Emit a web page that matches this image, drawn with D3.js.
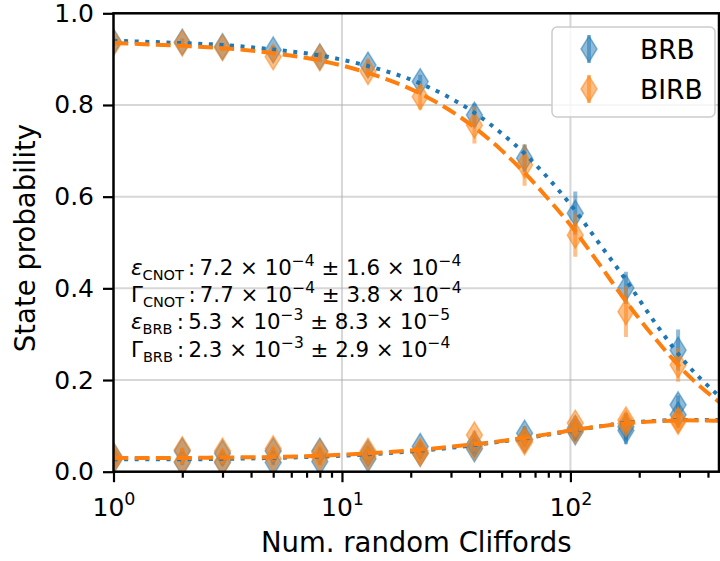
<!DOCTYPE html>
<html>
<head>
<meta charset="utf-8">
<script src="https://cdn.jsdelivr.net/npm/d3@7"></script>
<style>
  body { margin: 0; background: #fff; }
  svg { display: block; font-family: "DejaVu Sans", sans-serif; }
</style>
</head>
<body>
<div id="chart"></div>
<script>
// Data
var numCliffords = [1, 2, 3, 5, 8, 13, 22, 38, 63, 105, 175, 296];

var brbHigh    = [0.938, 0.937, 0.927, 0.920, 0.905, 0.887, 0.851, 0.778, 0.684, 0.564, 0.401, 0.265];
var brbHighErr = [0.008, 0.008, 0.008, 0.010, 0.010, 0.012, 0.015, 0.025, 0.030, 0.047, 0.035, 0.045];
var birbHigh    = [0.935, 0.935, 0.925, 0.905, 0.903, 0.873, 0.818, 0.756, 0.669, 0.516, 0.349, 0.233];
var birbHighErr = [0.008, 0.008, 0.008, 0.010, 0.010, 0.012, 0.028, 0.040, 0.045, 0.047, 0.055, 0.037];

// two low-state readings per length
var brbLowA  = [0.035, 0.045, 0.040, 0.045, 0.045, 0.040, 0.055, 0.050, 0.084, 0.087, 0.098, 0.146];
var brbLowB  = [0.025, 0.020, 0.020, 0.020, 0.022, 0.028, 0.040, 0.060, 0.070, 0.095, 0.090, 0.124];
var birbLowA = [0.035, 0.048, 0.045, 0.050, 0.042, 0.045, 0.045, 0.080, 0.070, 0.106, 0.113, 0.113];
var birbLowB = [0.025, 0.022, 0.022, 0.028, 0.030, 0.033, 0.040, 0.055, 0.065, 0.090, 0.105, 0.110];
var brbLowErr  = [0.006, 0.006, 0.006, 0.006, 0.008, 0.008, 0.010, 0.012, 0.015, 0.020, 0.030, 0.020];
var birbLowErr = [0.005, 0.005, 0.005, 0.005, 0.006, 0.006, 0.008, 0.010, 0.012, 0.015, 0.015, 0.015];

// fitted curves
var fitX        = [1, 2, 3, 5, 8, 13, 22, 38, 50, 63, 80, 100, 135, 170, 240, 310, 447];
var brbFitHigh  = [0.940, 0.935, 0.931, 0.921, 0.908, 0.885, 0.847, 0.783, 0.738, 0.694, 0.640, 0.583, 0.495, 0.427, 0.318, 0.245, 0.165];
var birbFitHigh = [0.935, 0.929, 0.924, 0.913, 0.897, 0.870, 0.825, 0.751, 0.701, 0.652, 0.595, 0.538, 0.450, 0.380, 0.285, 0.222, 0.152];
var brbFitLow   = [0.027, 0.027, 0.028, 0.030, 0.033, 0.038, 0.046, 0.058, 0.066, 0.073, 0.081, 0.089, 0.099, 0.106, 0.111, 0.113, 0.113];
var birbFitLow  = [0.030, 0.030, 0.031, 0.032, 0.035, 0.040, 0.048, 0.060, 0.067, 0.074, 0.082, 0.090, 0.099, 0.105, 0.110, 0.112, 0.111];

var yTicks = [0.0, 0.2, 0.4, 0.6, 0.8, 1.0];
var xTicks = [1, 10, 100];
var xMinorTicks = [2, 3, 4, 5, 6, 7, 8, 9, 20, 30, 40, 50, 60, 70, 80, 90, 200, 300, 400];

var seriesNames = ["BRB", "BIRB"];
var annSymbol = ["ε", "Γ", "ε", "Γ"];
var annSub    = ["CNOT", "CNOT", "BRB", "BRB"];
var annVal    = ["7.2", "7.7", "5.3", "2.3"];
var annValExp = ["−4", "−4", "−3", "−3"];
var annErr    = ["1.6", "3.8", "8.3", "2.9"];
var annErrExp = ["−4", "−4", "−5", "−4"];

var blue = "#1f77b4";
var orange = "#ff7f0e";

// SVG area
var svgWidth = 720;
var svgHeight = 561;
var chartMargin = { top: 13.3, right: 1, bottom: 89.3, left: 113.5 };
var chartWidth = svgWidth - chartMargin.left - chartMargin.right;
var chartHeight = svgHeight - chartMargin.top - chartMargin.bottom;

var svg = d3.select("#chart")
  .append("svg")
  .attr("width", svgWidth)
  .attr("height", svgHeight);

var chartGroup = svg.append("g")
  .attr("transform", `translate(${chartMargin.left}, ${chartMargin.top})`);

svg.append("defs").append("clipPath")
  .attr("id", "plotClip")
  .append("rect")
  .attr("x", 0).attr("y", 0)
  .attr("width", chartWidth).attr("height", chartHeight);

// scales
var xLogScale = d3.scaleLog().domain([1, 447]).range([0, chartWidth]);
var yLinearScale = d3.scaleLinear().domain([0, 1]).range([chartHeight, 0]);

// grid
chartGroup.append("g")
  .selectAll("line")
  .data(yTicks.filter(d => d > 0 && d < 1))
  .enter()
  .append("line")
  .attr("x1", 0).attr("x2", chartWidth)
  .attr("y1", d => yLinearScale(d)).attr("y2", d => yLinearScale(d))
  .attr("stroke", "#b0b0b0").attr("stroke-opacity", 0.5).attr("stroke-width", 2);

chartGroup.append("g")
  .selectAll("line")
  .data(xTicks.filter(d => d > 1))
  .enter()
  .append("line")
  .attr("x1", d => xLogScale(d)).attr("x2", d => xLogScale(d))
  .attr("y1", 0).attr("y2", chartHeight)
  .attr("stroke", "#b0b0b0").attr("stroke-opacity", 0.5).attr("stroke-width", 2);

var plot = chartGroup.append("g").attr("clip-path", "url(#plotClip)");

// thin diamond marker
var diamond = "M0,-13L8,0L0,13L-8,0Z";

function drawPoints(values, errs, color) {
  var pts = numCliffords.map((x, i) => ({ x: x, y: values[i], e: errs[i] }));
  var g = plot.append("g");
  g.selectAll("line")
    .data(pts)
    .enter()
    .append("line")
    .attr("x1", d => xLogScale(d.x)).attr("x2", d => xLogScale(d.x))
    .attr("y1", d => yLinearScale(d.y - d.e)).attr("y2", d => yLinearScale(d.y + d.e))
    .attr("stroke", color).attr("stroke-opacity", 0.5).attr("stroke-width", 4);
  g.selectAll("path")
    .data(pts)
    .enter()
    .append("path")
    .attr("d", diamond)
    .attr("transform", d => `translate(${xLogScale(d.x)}, ${yLinearScale(d.y)})`)
    .attr("fill", color).attr("fill-opacity", 0.5)
    .attr("stroke", color).attr("stroke-opacity", 0.5).attr("stroke-width", 1.5);
}

drawPoints(brbHigh, brbHighErr, blue);
drawPoints(brbLowA, brbLowErr, blue);
drawPoints(brbLowB, brbLowErr, blue);
drawPoints(birbHigh, birbHighErr, orange);
drawPoints(birbLowA, birbLowErr, orange);
drawPoints(birbLowB, birbLowErr, orange);

// fit lines
var fitLine = d3.line()
  .x(d => xLogScale(d[0]))
  .y(d => yLinearScale(d[1]))
  .curve(d3.curveMonotoneX);

function drawFit(values, color, dash, width) {
  plot.append("path")
    .datum(fitX.map((x, i) => [x, values[i]]))
    .attr("d", fitLine)
    .attr("fill", "none")
    .attr("stroke", color)
    .attr("stroke-width", width)
    .attr("stroke-dasharray", dash);
}

drawFit(brbFitHigh, blue, "4,6.6", 4);
drawFit(brbFitLow, blue, "4,6.6", 4);
drawFit(birbFitHigh, orange, "14.8,6.4", 4);
drawFit(birbFitLow, orange, "14.8,6.4", 4);

// axes
var leftAxis = d3.axisLeft(yLinearScale)
  .tickValues(yTicks)
  .tickFormat(d3.format(".1f"))
  .tickSize(10.5)
  .tickPadding(9);

var bottomAxis = d3.axisBottom(xLogScale)
  .tickValues(xTicks)
  .tickSize(10.5)
  .tickPadding(8);

var minorAxis = d3.axisBottom(xLogScale)
  .tickValues(xMinorTicks)
  .tickSize(6)
  .tickFormat("");

var yAxisG = chartGroup.append("g").call(leftAxis);
yAxisG.selectAll("text").attr("font-size", 25).attr("fill", "#000").attr("font-family", "DejaVu Sans");

var xAxisG = chartGroup.append("g")
  .attr("transform", `translate(0, ${chartHeight})`)
  .call(bottomAxis);

xAxisG.selectAll(".tick text").each(function(d) {
  var t = d3.select(this);
  t.text("").attr("dy", null).attr("y", 44)
    .attr("font-size", 25).attr("fill", "#000").attr("font-family", "DejaVu Sans");
  t.append("tspan").text("10");
  t.append("tspan").attr("dy", -11).attr("font-size", 17.5).text(Math.round(Math.log10(d)));
});

chartGroup.append("g")
  .attr("transform", `translate(0, ${chartHeight})`)
  .call(minorAxis);

chartGroup.selectAll(".domain").remove();
chartGroup.selectAll(".tick line").attr("stroke", "#000").attr("stroke-width", 2.2);

// frame
chartGroup.append("rect")
  .attr("x", 0).attr("y", 0)
  .attr("width", chartWidth).attr("height", chartHeight)
  .attr("fill", "none").attr("stroke", "#000").attr("stroke-width", 2.5);

// axis labels
svg.append("text")
  .attr("x", chartMargin.left + chartWidth / 2)
  .attr("y", 552)
  .attr("text-anchor", "middle")
  .attr("font-size", 27.5)
  .text("Num. random Cliffords");

svg.append("text")
  .attr("transform", "translate(35, 238) rotate(-90)")
  .attr("text-anchor", "middle")
  .attr("font-size", 27.5)
  .text("State probability");

// fit annotation
var ann = svg.append("g").attr("font-size", 21.3);
annSymbol.forEach(function(sym, i) {
  var t = ann.append("text").attr("x", 131).attr("y", 275 + i * 27.2);
  t.append("tspan").attr("font-style", sym === "ε" ? "italic" : "normal").text(sym);
  t.append("tspan").attr("font-size", 14.5).attr("dy", 5).text(annSub[i]);
  t.append("tspan").attr("dy", -5).text("\u2009:\u2009" + annVal[i] + " × 10");
  t.append("tspan").attr("font-size", 15.5).attr("dy", -9).text(annValExp[i]);
  t.append("tspan").attr("dy", 9).text(" ± " + annErr[i] + " × 10");
  t.append("tspan").attr("font-size", 15.5).attr("dy", -9).text(annErrExp[i]);
});

// legend
var legend = svg.append("g");
legend.append("rect")
  .attr("x", 552).attr("y", 27).attr("width", 163).attr("height", 90).attr("rx", 5)
  .attr("fill", "#fff").attr("fill-opacity", 0.8)
  .attr("stroke", "#cccccc").attr("stroke-width", 1.5);

var legendItems = legend.selectAll(".item")
  .data(seriesNames)
  .enter()
  .append("g")
  .attr("class", "item")
  .attr("transform", (d, i) => `translate(589, ${49 + i * 40})`);

legendItems.append("line")
  .attr("y1", -14).attr("y2", 14)
  .attr("stroke", (d, i) => i === 0 ? blue : orange)
  .attr("stroke-opacity", 0.5).attr("stroke-width", 4);

legendItems.append("path")
  .attr("d", diamond)
  .attr("fill", (d, i) => i === 0 ? blue : orange).attr("fill-opacity", 0.5)
  .attr("stroke", (d, i) => i === 0 ? blue : orange).attr("stroke-opacity", 0.5)
  .attr("stroke-width", 1.5);

legendItems.append("text")
  .attr("x", 51).attr("y", 9.5)
  .attr("font-size", 26.5)
  .text(d => d);
</script>
</body>
</html>
